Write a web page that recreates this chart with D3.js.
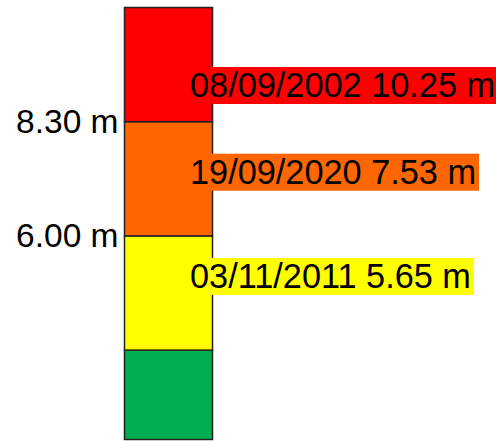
<!DOCTYPE html>
<html>
<head>
<meta charset="utf-8">
<script src="https://cdn.jsdelivr.net/npm/d3@7"></script>
<style>
  body { margin: 0; background: #fff; }
  svg { display: block; font-family: "Liberation Sans", Arial, sans-serif; }
</style>
</head>
<body>
<div id="chart"></div>
<script>
// Alert bands of the gauge (metres)
const bandNames = ['green', 'yellow', 'orange', 'red'];
const bandFrom = [1.90, 3.70, 6.00, 8.30];
const bandTo = [3.70, 6.00, 8.30, 10.60];
const bandColors = ['#00b050', '#ffff00', '#ff6600', '#ff0000'];

// Threshold ticks shown on the left
const tickValues = [8.30, 6.00];

// Historic floods, one per band (top to bottom)
const floodDates = ['08/09/2002', '19/09/2020', '03/11/2011'];
const floodLevels = [10.25, 7.53, 5.65];
const floodBands = ['red', 'orange', 'yellow'];

(function() {
  const width = 496, height = 441;

  const svg = d3.select('#chart')
    .append('svg')
    .attr('width', width)
    .attr('height', height);

  const y = d3.scaleLinear()
    .domain([d3.min(bandFrom), d3.max(bandTo)])
    .range([439.5, 7.5]);

  const x = d3.scaleBand()
    .domain(['gauge'])
    .range([124.5, 212.5])
    .padding(0);

  const bands = bandNames.map(function(name, i) {
    return { name: name, from: bandFrom[i], to: bandTo[i], color: bandColors[i] };
  });

  // Bar segments
  svg.selectAll('.band')
    .data(bands)
    .enter()
    .append('rect')
    .attr('class', 'band')
    .attr('x', x('gauge'))
    .attr('width', x.bandwidth())
    .attr('y', function(d) { return y(d.to); })
    .attr('height', function(d) { return y(d.from) - y(d.to); })
    .attr('fill', function(d) { return d.color; })
    .attr('stroke', '#222')
    .attr('stroke-width', 1.5);

  // Threshold axis
  const axis = d3.axisLeft(y)
    .tickValues(tickValues)
    .tickSize(0)
    .tickPadding(6)
    .tickFormat(function(d) { return d3.format('.2f')(d) + ' m'; });

  const axisG = svg.append('g')
    .attr('transform', 'translate(' + x('gauge') + ',0)')
    .call(axis);
  axisG.select('.domain').remove();
  axisG.selectAll('text')
    .attr('font-size', '33.5px')
    .attr('font-family', '"Liberation Sans", Arial, sans-serif')
    .attr('fill', '#000');

  // Flood labels, placed in their band (baseline offset from band top)
  const labelDy = [89.5, 62, 52];
  const colorOf = {};
  bands.forEach(function(b) { colorOf[b.name] = b; });

  floodDates.forEach(function(date, i) {
    const band = colorOf[floodBands[i]];
    const baseline = y(band.to) + labelDy[i];
    const g = svg.append('g');
    const box = g.append('rect').attr('fill', band.color);
    const text = g.append('text')
      .attr('x', 190)
      .attr('y', baseline)
      .attr('font-size', '34.3px')
      .attr('fill', '#000')
      .text(date + ' ' + d3.format('.2f')(floodLevels[i]) + ' m');
    const bb = text.node().getBBox();
    box.attr('x', bb.x - 2)
      .attr('y', bb.y + 1)
      .attr('width', bb.width + 5)
      .attr('height', bb.height - 1);
  });
})();
</script>
</body>
</html>
